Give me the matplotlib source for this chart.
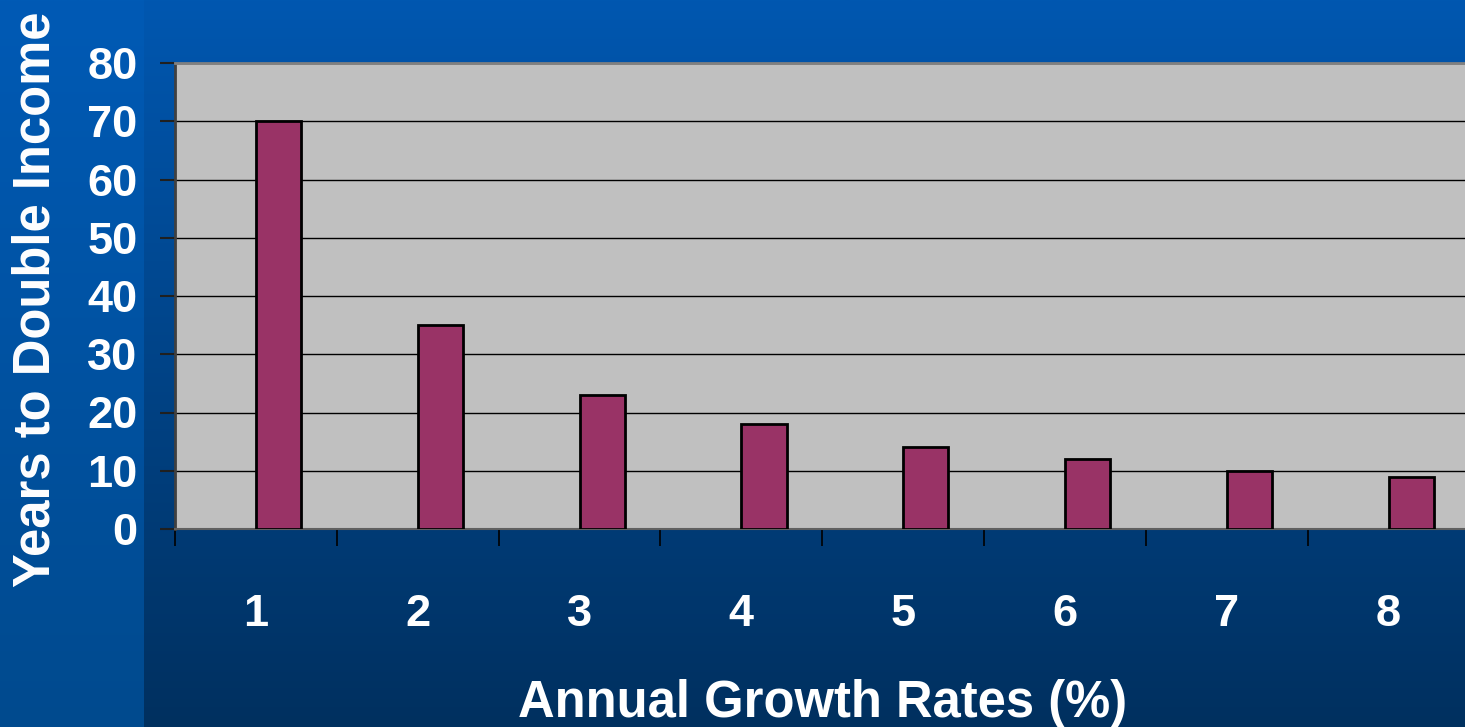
import numpy as np
import matplotlib
matplotlib.use("Agg")
import matplotlib.pyplot as plt
from matplotlib.colors import LinearSegmentedColormap

# rule of 70: years needed to double income at each annual growth rate
rates = ["1", "2", "3", "4", "5", "6", "7", "8"]
years = [70, 35, 23, 18, 14, 12, 10, 9]
yticks = [0, 10, 20, 30, 40, 50, 60, 70, 80]

plt.rcParams["font.family"] = ["Liberation Sans", "DejaVu Sans"]
plt.rcParams["font.weight"] = "bold"

W, H = 1465, 727
fig = plt.figure(figsize=(W / 100, H / 100), dpi=100)

# slide background: vertical gradients, a lighter strip on the far left
bg = fig.add_axes([0, 0, 1, 1], zorder=-10)
bg.set_axis_off()
grad = np.linspace(0, 1, 256)[:, None]
side = LinearSegmentedColormap.from_list("side", ["#005AB5", "#004A8E"])
main = LinearSegmentedColormap.from_list("main", ["#0057B0", "#00305F"])
split = 144 / W
bg.imshow(grad, cmap=side, aspect="auto", extent=[0, split, 1, 0])
bg.imshow(grad, cmap=main, aspect="auto", extent=[split, 1, 1, 0])
bg.set_xlim(0, 1)
bg.set_ylim(1, 0)

# plot area: runs slightly off the right edge
left, bottom, top = 175 / W, (H - 529) / H, (H - 63) / H
width = 8 * 161.8 / W
ax = fig.add_axes([left, bottom, width, top - bottom])
ax.set_facecolor("#C0C0C0")

x = np.arange(len(rates))
ax.bar(x, years, width=0.28, align="edge", color="#993366",
       edgecolor="black", linewidth=2.0, zorder=3)

ax.set_xlim(-0.5, len(rates) - 0.5)
ax.set_ylim(0, 80)
ax.set_yticks(yticks)
ax.set_yticklabels([str(v) for v in yticks])
ax.yaxis.grid(True, color="black", linewidth=1.0, zorder=1)
ax.set_axisbelow(True)

ax.set_xticks(x)
ax.set_xticklabels(rates)
ax.set_xticks(np.arange(-0.5, len(rates)), minor=True)
ax.tick_params(axis="x", which="major", length=0, pad=47,
               labelsize=32.5, labelcolor="white")
ax.tick_params(axis="x", which="minor", length=12, width=1.2,
               color="black", direction="out")
ax.tick_params(axis="y", length=11, width=1.5, color="#202020", pad=16,
               labelsize=32.5, labelcolor="white")
for lab in ax.get_xticklabels() + ax.get_yticklabels():
    lab.set_fontweight("bold")

ax.spines["left"].set_color("#404040")
ax.spines["left"].set_linewidth(2.0)
ax.spines["top"].set_color("#808080")
ax.spines["top"].set_linewidth(2.0)
ax.spines["bottom"].set_color("#606060")
ax.spines["bottom"].set_linewidth(1.5)
ax.spines["right"].set_visible(False)

ax.set_xlabel("Annual Growth Rates (%)", fontsize=36.5, fontweight="bold",
              color="white")
ax.xaxis.set_label_coords(0.5, (529 - 728) / 466)
ax.xaxis.label.set_va("bottom")
ax.set_ylabel("Years to Double Income", fontsize=36.5, fontweight="bold",
              color="white")
ax.yaxis.set_label_coords((61 - 175) / 1294.4, (529 - 299) / 466)

fig.savefig("out.png", dpi=100)
